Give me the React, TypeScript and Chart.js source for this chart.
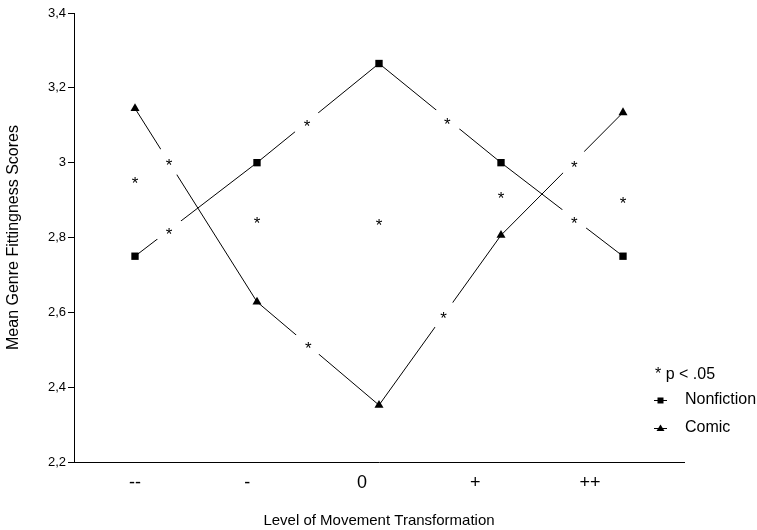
import React, { useEffect, useRef } from "react";
import { Chart, registerables } from "chart.js";

Chart.register(...registerables);

// ---- data ----
const categories = ["--", "-", "0", "+", "++"];
// where the category labels sit along the x scale (the reference's labels drift left of the points)
const categoryTickPos = [0, 0.92, 1.86, 2.79, 3.73];
const nonfiction = [2.75, 3.0, 3.265, 3.0, 2.75];
const comic = [3.145, 2.628, 2.352, 2.806, 3.134];
const yTicks = [2.2, 2.4, 2.6, 2.8, 3, 3.2, 3.4];
// significance markers (*) in data coordinates: x = category index, y = score
const sigX = [0, 0.28, 0.28, 1, 1.41, 1.42, 2, 2.56, 2.53, 3, 3.6, 3.6, 4];
const sigY = [2.955, 3.003, 2.82, 2.849, 3.107, 2.516, 2.844, 3.114, 2.594, 2.916, 3.0, 2.85, 2.903];
const sigNote = "* p < .05";
const seriesNames = ["Nonfiction", "Comic"];

const FONT = '"Liberation Sans", Arial, Helvetica, sans-serif';

const sigPlugin = {
  id: "sigMarks",
  afterDatasetsDraw(chart: any) {
    const { ctx, scales } = chart;
    const xs = scales.x;
    const ys = scales.y;
    const fs = 17;
    ctx.save();
    ctx.fillStyle = "#fff";
    sigX.forEach((v, i) => {
      const px = xs.getPixelForValue(v);
      const py = ys.getPixelForValue(sigY[i]);
      ctx.beginPath();
      ctx.arc(px, py, 15, 0, Math.PI * 2);
      ctx.fill();
    });
    ctx.fillStyle = "#000";
    ctx.font = `${fs}px ${FONT}`;
    ctx.textAlign = "center";
    ctx.textBaseline = "alphabetic";
    sigX.forEach((v, i) => {
      const px = xs.getPixelForValue(v);
      const py = ys.getPixelForValue(sigY[i]);
      ctx.fillText("*", px, py + 0.58 * fs);
    });
    ctx.restore();
  },
};

const legendPlugin = {
  id: "customLegend",
  afterDraw(chart: any) {
    const { ctx, chartArea } = chart;
    const lineL = chartArea.right - 30;
    const lineR = chartArea.right - 17;
    const mid = (lineL + lineR) / 2;
    const textX = chartArea.right + 1;
    const rows = [chartArea.bottom - 62, chartArea.bottom - 34];
    ctx.save();
    ctx.fillStyle = "#000";
    ctx.strokeStyle = "#000";
    ctx.font = `16px ${FONT}`;
    ctx.textBaseline = "middle";
    ctx.textAlign = "left";
    ctx.fillText(sigNote, lineL + 1, chartArea.bottom - 87);
    seriesNames.forEach((name, i) => {
      const y = rows[i];
      ctx.lineWidth = 1;
      ctx.beginPath();
      ctx.moveTo(lineL, y + 0.5);
      ctx.lineTo(lineR, y + 0.5);
      ctx.stroke();
      ctx.beginPath();
      if (i === 0) {
        ctx.rect(mid - 3, y - 2.5, 6, 6);
      } else {
        ctx.moveTo(mid, y - 3.5);
        ctx.lineTo(mid + 4, y + 3);
        ctx.lineTo(mid - 4, y + 3);
        ctx.closePath();
      }
      ctx.fill();
      ctx.fillText(name, textX, y);
    });
    ctx.restore();
  },
};

export default function App() {
  const ref = useRef<HTMLCanvasElement | null>(null);

  useEffect(() => {
    document.body.style.margin = "0";
    const canvas = ref.current;
    if (!canvas) return;
    const toPoints = (vals: number[]) => categories.map((_, i) => ({ x: i, y: vals[i] }));
    const chart = new Chart(canvas, {
      type: "line",
      data: {
        datasets: [
          {
            label: seriesNames[0],
            data: toPoints(nonfiction),
            borderColor: "#000",
            backgroundColor: "#000",
            borderWidth: 1,
            pointStyle: "rect",
            pointRadius: 5.2,
            pointBorderWidth: 0,
            tension: 0,
          },
          {
            label: seriesNames[1],
            data: toPoints(comic),
            borderColor: "#000",
            backgroundColor: "#000",
            borderWidth: 1,
            pointStyle: "triangle",
            pointRadius: 5.2,
            pointBorderWidth: 0,
            tension: 0,
          },
        ],
      },
      options: {
        responsive: false,
        animation: false,
        events: [],
        layout: { padding: { top: 13, right: 73, left: 0, bottom: 0 } },
        plugins: {
          legend: { display: false },
          tooltip: { enabled: false },
        },
        scales: {
          x: {
            type: "linear",
            min: -0.5,
            max: 4.5,
            afterBuildTicks: (s: any) => {
              s.ticks = categoryTickPos.map((v) => ({ value: v }));
            },
            afterFit: (s: any) => {
              s.height = 68;
            },
            ticks: {
              autoSkip: false,
              maxRotation: 0,
              minRotation: 0,
              color: "#000",
              padding: 10,
              font: { family: FONT, size: 18 },
              callback: (_v: any, i: number) => categories[i],
            },
            grid: { display: true, drawOnChartArea: false, drawTicks: false, color: "#000" },
            border: { display: true, color: "#000", width: 1 },
            title: {
              display: true,
              text: "Level of Movement Transformation",
              color: "#000",
              font: { family: FONT, size: 15 },
              padding: { top: 0, bottom: 0 },
            },
          },
          y: {
            type: "linear",
            min: 2.2,
            max: 3.4,
            afterBuildTicks: (s: any) => {
              s.ticks = yTicks.map((v) => ({ value: v }));
            },
            afterFit: (s: any) => {
              s.width = 74;
            },
            ticks: {
              color: "#000",
              padding: 2,
              font: { family: FONT, size: 13 },
              callback: (v: any) => String(Math.round(Number(v) * 10) / 10).replace(".", ","),
            },
            grid: {
              display: true,
              drawOnChartArea: false,
              drawTicks: true,
              tickLength: 6,
              color: "#000",
            },
            border: { display: true, color: "#000", width: 1 },
            title: {
              display: true,
              text: "Mean Genre Fittingness Scores",
              color: "#000",
              font: { family: FONT, size: 16 },
              padding: { top: 4, bottom: 0 },
            },
          },
        },
      },
      plugins: [sigPlugin, legendPlugin],
    } as any);
    return () => chart.destroy();
  }, []);

  return (
    <div style={{ width: 757, height: 530, background: "#fff" }}>
      <canvas ref={ref} width={757} height={530} style={{ display: "block" }} />
    </div>
  );
}
